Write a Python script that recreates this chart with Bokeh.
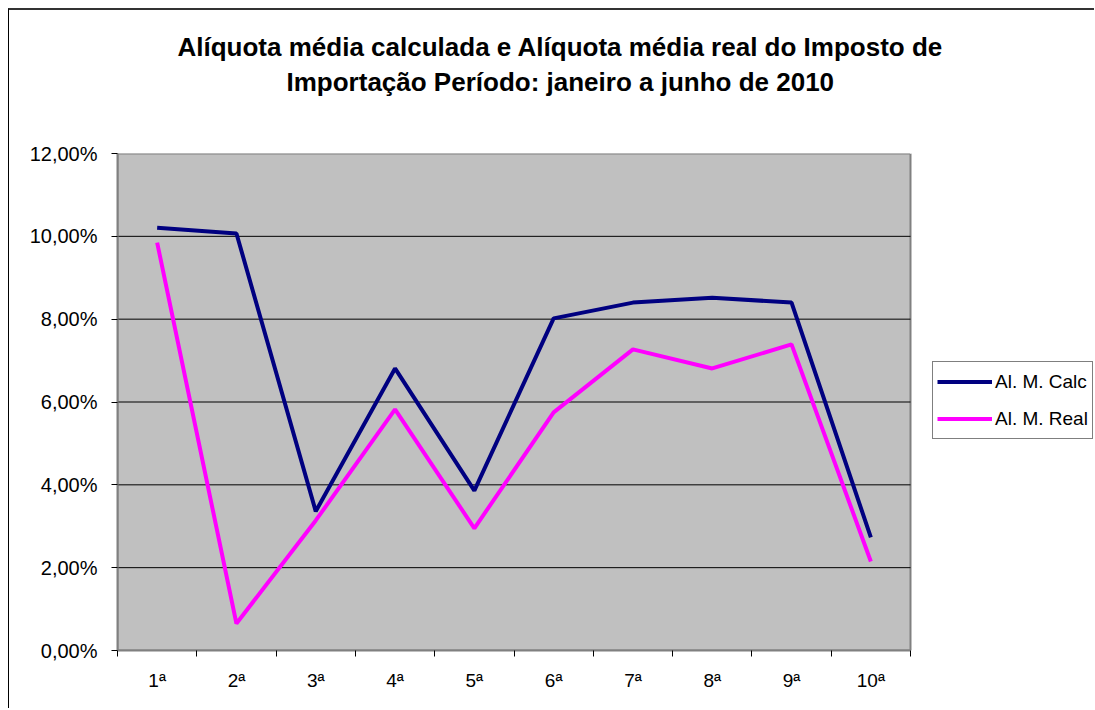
from bokeh.plotting import figure
from bokeh.models import (FixedTicker, CustomJSTickFormatter, Legend, LegendItem,
                          Title, Range1d, LinearAxis)
from bokeh.embed import file_html
from bokeh.resources import INLINE

categories = ["1ª", "2ª", "3ª", "4ª", "5ª", "6ª", "7ª", "8ª", "9ª", "10ª"]
calc = [10.21, 10.07, 3.36, 6.81, 3.86, 8.02, 8.40, 8.52, 8.40, 2.73]
real = [9.85, 0.65, 3.14, 5.82, 2.95, 5.75, 7.27, 6.81, 7.39, 2.15]
series_names = ["Al. M. Calc", "Al. M. Real"]
title_lines = ["Alíquota média calculada e Alíquota média real do Imposto de",
               "Importação Período: janeiro a junho de 2010"]
y_ticks = [0, 2, 4, 6, 8, 10, 12]

n = len(categories)
xs = [i + 0.5 for i in range(n)]
FONT = "Liberation Sans"

# layout constants (pixels)
FRAME_W = 978          # frame spans plot area + legend zone
PLOT_W = 793           # width of the grey plot area

p = figure(width=1086, height=700, output_backend="svg", toolbar_location=None,
           x_range=Range1d(0, n * FRAME_W / PLOT_W), y_range=Range1d(y_ticks[0], y_ticks[-1]),
           min_border_left=108, min_border_right=0, min_border_top=143,
           min_border_bottom=60)
p.styles = {"margin-left": "8px", "margin-top": "8px",
            "border-left": "1px solid black", "border-top": "2px solid #333333"}

p.background_fill_color = "white"
p.border_fill_color = "white"
p.outline_line_color = None
p.xgrid.grid_line_color = None
p.ygrid.grid_line_color = None

# Y axis
yax = p.left[0]
yax.ticker = FixedTicker(ticks=y_ticks)
yax.formatter = CustomJSTickFormatter(
    code="return tick.toFixed(2).replace('.', ',') + '%';")
yax.major_label_text_font = FONT
yax.major_label_text_font_size = "20px"
yax.major_label_text_color = "black"
yax.axis_line_color = "#808080"
yax.axis_line_width = 2
yax.major_tick_line_color = "black"
yax.major_tick_out = 6
yax.major_tick_in = 0
yax.minor_tick_line_color = None
yax.major_label_standoff = 14

# X axis: labels at centres, ticks at category boundaries
xax = p.below[0]
xax.bounds = (0, n)
xax.ticker = FixedTicker(ticks=xs, minor_ticks=list(range(n + 1)))
xax.major_label_overrides = {x: c for x, c in zip(xs, categories)}
xax.major_label_text_font = FONT
xax.major_label_text_font_size = "19px"
xax.major_label_text_color = "black"
xax.axis_line_color = "#808080"
xax.axis_line_width = 2
xax.major_tick_line_color = None
xax.major_tick_out = 0
xax.major_tick_in = 0
xax.minor_tick_line_color = "black"
xax.minor_tick_out = 6
xax.minor_tick_in = 0
xax.major_label_standoff = 13

# invisible spacer axis between the plot area and the title
spacer = LinearAxis(ticker=FixedTicker(ticks=[n]), axis_line_color=None,
                    major_tick_line_color="white", minor_tick_line_color=None,
                    major_tick_out=55, major_tick_in=0, minor_tick_out=0,
                    major_label_overrides={n: ""}, major_label_standoff=0,
                    major_label_text_font_size="1px")
p.add_layout(spacer, "above")

t2 = Title(text=title_lines[1], align="left", text_font=FONT,
           text_font_size="26px", text_font_style="bold", text_color="black",
           offset=169, standoff=4)
t1 = Title(text=title_lines[0], align="left", text_font=FONT,
           text_font_size="26px", text_font_style="bold", text_color="black",
           offset=60, standoff=2)
p.add_layout(t2, "above")
p.add_layout(t1, "above")

# grey plot area
p.quad(left=0, right=n, bottom=y_ticks[0], top=y_ticks[-1],
       fill_color="#C0C0C0", line_color="#808080", line_width=2)
# horizontal gridlines
inner = y_ticks[1:-1]
p.segment(x0=[0] * len(inner), x1=[n] * len(inner), y0=inner, y1=inner,
          line_color="black", line_width=1)

r1 = p.line(xs, calc, line_color="#000080", line_width=4)
r2 = p.line(xs, real, line_color="#FF00FF", line_width=4)

legend = Legend(items=[LegendItem(label=series_names[0], renderers=[r1]),
                       LegendItem(label=series_names[1], renderers=[r2])],
                location=(815, 211), orientation="vertical",
                border_line_color="black", border_line_width=1,
                background_fill_color="white", background_fill_alpha=1,
                label_text_font=FONT, label_text_font_size="19px",
                label_text_color="black", glyph_width=55, glyph_height=31,
                label_height=31, label_standoff=3, padding=4, spacing=6, margin=0)
p.add_layout(legend, "center")

open("out.html", "w").write(file_html(p, INLINE))
